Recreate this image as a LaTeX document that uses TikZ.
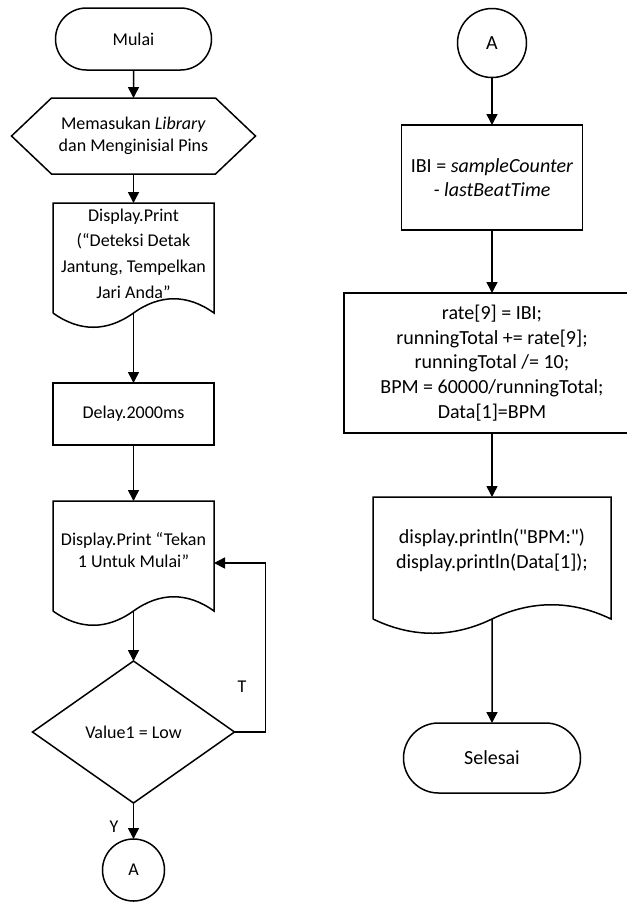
\documentclass[tikz,border=0pt]{standalone}
\usepackage{fontspec}
\setmainfont{Carlito}
\newfontfamily\codefont{Carlito}
\usetikzlibrary{arrows.meta,calc,shapes.geometric,shapes.misc}

% outline of the preparation (hexagon) box round a plain node
\newcommand{\prepoutline}[1]{%
  \draw (#1.west) -- ($(#1.north west)+(40,0)$) -- ($(#1.north east)+(-40,0)$)
    -- (#1.east) -- ($(#1.south east)+(-40,0)$) -- ($(#1.south west)+(40,0)$) -- cycle;}
% outline of a document box with a wavy bottom
\newcommand{\docoutline}[1]{%
  \draw (#1.south west) -- (#1.north west) -- (#1.north east) -- (#1.south east)
    .. controls ($(#1.south east)!0.33!(#1.south)+(0,-19)$)
    and ($(#1.south)!0.33!(#1.south east)+(0,-19)$) .. (#1.south)
    .. controls ($(#1.south)!0.33!(#1.south west)+(0,19)$)
    and ($(#1.south west)!0.33!(#1.south)+(0,19)$) .. (#1.south west);}

\begin{document}
\begin{tikzpicture}[x=0.5pt,y=-0.5pt,line width=0.75pt,
  font=\fontsize{10pt}{12.3pt}\selectfont,
  every node/.style={outer sep=0pt,inner sep=1pt,align=center},
  small/.style={font=\fontsize{9pt}{11pt}\selectfont},
  term/.style={rounded rectangle,draw,minimum width=#1,minimum height=31pt},
  procbox/.style={rectangle,draw,minimum width=80.5pt,minimum height=31pt},
  docbox/.style={rectangle,minimum width=80.5pt,minimum height=55pt},
  decbox/.style={diamond,draw,aspect=1.42,minimum width=101pt,minimum height=71pt,inner sep=0pt},
  conn/.style={circle,draw,minimum size=#1,inner sep=0pt},
  arr/.style={-{Triangle[length=5.5pt,width=5.5pt]}}]
  \useasboundingbox (0,0) rectangle (627,902);
  % left column
  \node[term=80pt,small] (mulai) at (133.5,39) {Mulai};
  \node[small,minimum width=122pt,minimum height=38pt] (lib) at (133.5,136)
    {Memasukan \textit{Library}\\dan Menginisial Pins};
  \prepoutline{lib}
  \node[docbox,font=\fontsize{9pt}{12.8pt}\selectfont,text depth=4.5pt] (disp1) at (133.5,258)
    {Display.Print\\(“Deteksi Detak\\Jantung, Tempelkan\\Jari Anda”};
  \docoutline{disp1}
  \node[procbox,small] (delay) at (133.5,414) {Delay.2000ms};
  \node[docbox,small,text depth=6.5pt] (disp2) at (133.5,556) {Display.Print “Tekan\\1 Untuk Mulai”};
  \docoutline{disp2}
  \node[decbox,small] (cek) at (133.5,732) {Value1 = Low};
  \node[conn=31pt,small] (conA) at (133.5,870) {A};
  \node[small] (tlab) at (242,687) {T};
  \node[small] (ylab) at (114,827) {Y};
  % right column
  \node[conn=34.5pt] (conB) at (492,43) {A};
  \node[procbox,minimum width=90.5pt,minimum height=52.5pt] (ibi) at (492,177.5)
    {IBI = \textit{sampleCounter}\\\textit{- lastBeatTime}};
  \node[procbox,minimum width=148pt,minimum height=70pt] (rate) at (492,363)
    {rate[9] = IBI;\\runningTotal += rate[9];\\runningTotal /= 10;\\BPM = 60000/runningTotal;\\Data[1]=BPM};
  \node[docbox,minimum width=119pt,minimum height=61pt,text depth=9.5pt,
    font=\codefont\fontsize{10pt}{12.5pt}\selectfont] (disp3) at (492,558)
    {display.println("BPM:")\\display.println(Data[1]);};
  \docoutline{disp3}
  \node[term=90.5pt,minimum height=35pt] (selesai) at (492,758) {Selesai};
  % connectors
  \draw[arr] (mulai) -- (lib);
  \draw[arr] (lib) -- (disp1);
  \draw[arr] (disp1.south) -- (delay);
  \draw[arr] (delay) -- (disp2);
  \draw[arr] (disp2.south) -- (cek);
  \draw[arr] (cek) -- (conA);
  \draw[arr] (cek.east) -- ++(31,0) |- ($(disp2.east)+(0,7)$);
  \draw[arr] (conB) -- (ibi);
  \draw[arr] (ibi) -- (rate);
  \draw[arr] (rate) -- (disp3);
  \draw[arr] (disp3.south) -- (selesai);
\end{tikzpicture}
\end{document}
